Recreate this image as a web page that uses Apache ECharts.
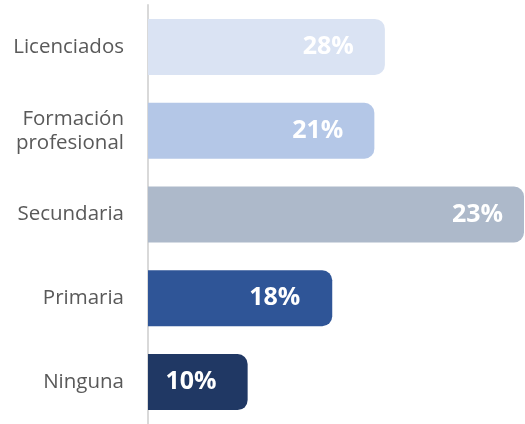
<!DOCTYPE html>
<html><head><meta charset="utf-8">
<script src="https://cdn.jsdelivr.net/npm/echarts@6/dist/echarts.min.js"></script>
<style>html,body{margin:0;padding:0;background:#fff}#c{width:525px;height:424px}</style>
</head><body><div id="c"></div>
<script>
var categories = ['Ninguna', 'Primaria', 'Secundaria', 'Formación\nprofesional', 'Licenciados'];
var barValues = [26.5, 49, 100, 60.2, 63];
var labelTexts = ['10%', '18%', '23%', '21%', '28%'];
var colors = ['#203864', '#2f5597', '#adb9ca', '#b4c7e7', '#dae3f3'];
var labelDistances = [31, 32, 21, 31, 31];

var chart = echarts.init(document.getElementById('c'));
chart.setOption({
  animation: false,
  grid: {left: 148, right: 1, top: 5, bottom: -2, containLabel: false},
  xAxis: {type: 'value', min: 0, max: 100, show: false},
  yAxis: {
    type: 'category', data: categories,
    axisLine: {show: true, lineStyle: {color: '#d9d9d9', width: 2}},
    axisTick: {show: false},
    axisLabel: {color: '#595959', fontFamily: 'Open Sans', fontSize: 20.5, lineHeight: 24, margin: 24},
    splitLine: {show: false}
  },
  series: [{
    type: 'bar',
    barWidth: 56,
    data: barValues.map(function (v, i) {
      return {
        value: v,
        itemStyle: {color: colors[i], borderRadius: [0, 10, 10, 0]},
        label: {distance: labelDistances[i]}
      };
    }),
    label: {
      show: true, position: 'insideRight',
      color: '#fff', fontFamily: 'Open Sans', fontWeight: 'bold', fontSize: 25,
      formatter: function (p) { return labelTexts[p.dataIndex]; }
    }
  }]
});
</script></body></html>
